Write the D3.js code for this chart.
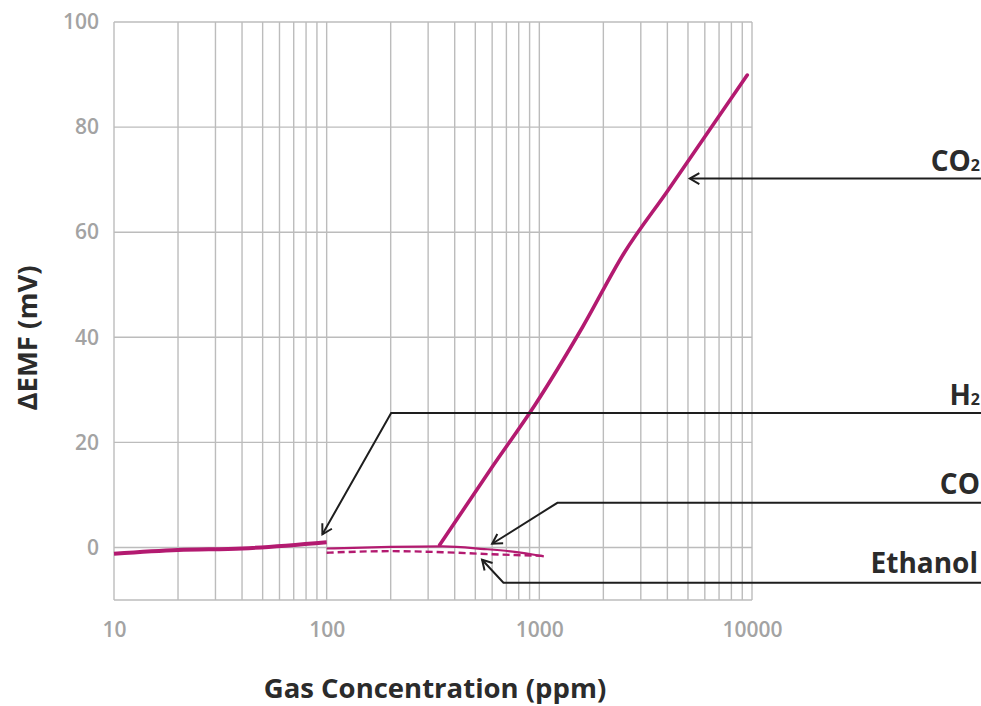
<!DOCTYPE html>
<html>
<head>
<meta charset="utf-8">
<script src="https://cdn.jsdelivr.net/npm/d3@7"></script>
<style>
  html, body { margin: 0; padding: 0; background: #ffffff; }
  svg { display: block; font-family: "Open Sans", "DejaVu Sans", sans-serif; }
</style>
</head>
<body>
<svg id="chart" width="981" height="706"></svg>
<script>
// ---- data ----
const xTickValues = [10, 100, 1000, 10000];
const xTickLabels = ["10", "100", "1000", "10000"];
const yTickValues = [0, 20, 40, 60, 80, 100];
const yTickLabels = ["0", "20", "40", "60", "80", "100"];

const h2Conc = [10, 20, 40, 100];
const h2Emf = [-1.2, -0.5, -0.2, 1.0];

const coConc = [100, 200, 350, 550, 750, 1050];
const coEmf = [-0.2, 0.1, 0.2, -0.3, -0.8, -1.7];

const ethanolConc = [100, 200, 350, 600, 1050];
const ethanolEmf = [-1.0, -0.7, -0.9, -1.3, -1.6];

const co2Conc = [340, 600, 950, 1600, 2500, 4000, 9500];
const co2Emf = [0.5, 15.3, 27, 42, 56, 67.8, 89.9];

// annotation anchors (data units): arrow tip and elbow
const annoNames = ["CO2", "H2", "CO", "Ethanol"];
const annoTipConc = [5100, 95.5, 600, 538];
const annoTipEmf = [70.2, 2.5, 0.7, -2.35];
const annoElbowConc = [5100, 201, 1216, 678];
const annoElbowEmf = [70.2, 25.6, 8.5, -6.7];

// ---- layout ----
const svg = d3.select("#chart");
const W = 981, H = 706;
const x = d3.scaleLog().domain([10, 10000]).range([114, 752]);
const y = d3.scaleLinear().domain([-10, 100]).range([600, 22]);

const gridColor = "#bcbcbc";
const magenta = "#b31a70";
const tickColor = "#a3a3a3";
const darkText = "#2b2b2b";

// grid
const g = svg.append("g");
const vTicks = [];
for (let d = 10; d < 10000; d *= 10) for (let k = 1; k <= 9; k++) vTicks.push(d * k);
vTicks.push(10000);
g.selectAll("line.v").data(vTicks).enter().append("line")
  .attr("x1", d => x(d)).attr("x2", d => x(d))
  .attr("y1", y(100)).attr("y2", y(-10))
  .attr("stroke", gridColor).attr("stroke-width", 1.4);
g.selectAll("line.h").data([-10].concat(yTickValues)).enter().append("line")
  .attr("x1", x(10)).attr("x2", x(10000))
  .attr("y1", d => y(d)).attr("y2", d => y(d))
  .attr("stroke", gridColor).attr("stroke-width", 1.4);

// axes (labels only)
const yAxis = d3.axisLeft(y).tickValues(yTickValues)
  .tickFormat((d, i) => yTickLabels[i]).tickSize(0).tickPadding(15);
const ya = svg.append("g").attr("transform", `translate(${x(10)},0)`).call(yAxis);
ya.select(".domain").remove();
ya.selectAll("text").attr("fill", tickColor).attr("font-size", 21)
  .attr("font-weight", 600).attr("font-family", "Open Sans");

const xAxis = d3.axisBottom(x).tickValues(xTickValues)
  .tickFormat((d, i) => xTickLabels[i]).tickSize(0).tickPadding(22);
const xa = svg.append("g").attr("transform", `translate(0,${y(-10)})`).call(xAxis);
xa.select(".domain").remove();
xa.selectAll("text").attr("fill", tickColor).attr("font-size", 21)
  .attr("font-weight", 600).attr("font-family", "Open Sans");

// axis titles
svg.append("text")
  .attr("x", 435).attr("y", 698)
  .attr("text-anchor", "middle")
  .attr("font-size", 27.5).attr("font-weight", 700).attr("fill", darkText)
  .text("Gas Concentration (ppm)");
svg.append("text")
  .attr("transform", "translate(37,338) rotate(-90)")
  .attr("text-anchor", "middle")
  .attr("font-size", 27.5).attr("font-weight", 700).attr("fill", darkText)
  .text("ΔEMF (mV)");

// series
const line = d3.line().x(d => x(d[0])).y(d => y(d[1]));
const zip = (a, b) => a.map((v, i) => [v, b[i]]);

svg.append("path").datum(zip(h2Conc, h2Emf))
  .attr("d", line.curve(d3.curveMonotoneX)).attr("fill", "none")
  .attr("stroke", magenta).attr("stroke-width", 4).attr("stroke-linecap", "butt");
svg.append("path").datum(zip(coConc, coEmf))
  .attr("d", line.curve(d3.curveMonotoneX)).attr("fill", "none")
  .attr("stroke", magenta).attr("stroke-width", 2.2);
svg.append("path").datum(zip(ethanolConc, ethanolEmf))
  .attr("d", line.curve(d3.curveMonotoneX)).attr("fill", "none")
  .attr("stroke", magenta).attr("stroke-width", 2.4).attr("stroke-dasharray", "7,4");
svg.append("path").datum(zip(co2Conc, co2Emf))
  .attr("d", line.curve(d3.curveMonotoneX)).attr("fill", "none")
  .attr("stroke", magenta).attr("stroke-width", 3.6).attr("stroke-linecap", "round");

// annotations
const labelBaselineOffset = [-8, -8, -9, -10];
const labelEndX = [980, 980, 980, 978];
annoNames.forEach((name, i) => {
  const tx = x(annoTipConc[i]), ty = y(annoTipEmf[i]);
  const ex = x(annoElbowConc[i]), ey = y(annoElbowEmf[i]);
  const a = svg.append("g");
  a.append("path")
    .attr("d", `M${W},${ey} L${ex},${ey} L${tx},${ty}`)
    .attr("fill", "none").attr("stroke", "#1e1e1e").attr("stroke-width", 2);
  // arrow head
  let dx = ex - tx, dy = ey - ty;
  if (i === 0) { dx = 1; dy = 0; }
  const len = Math.hypot(dx, dy);
  const ux = dx / len, uy = dy / len;
  const hl = 11, ang = Math.PI / 6;
  const p1 = [tx + hl * (ux * Math.cos(ang) - uy * Math.sin(ang)), ty + hl * (uy * Math.cos(ang) + ux * Math.sin(ang))];
  const p2 = [tx + hl * (ux * Math.cos(-ang) - uy * Math.sin(-ang)), ty + hl * (uy * Math.cos(-ang) + ux * Math.sin(-ang))];
  a.append("path")
    .attr("d", `M${p1[0]},${p1[1]} L${tx},${ty} L${p2[0]},${p2[1]}`)
    .attr("fill", "none").attr("stroke", "#1e1e1e").attr("stroke-width", 2)
    .attr("stroke-linejoin", "miter");
  // label
  const t = a.append("text")
    .attr("x", labelEndX[i]).attr("y", ey + labelBaselineOffset[i])
    .attr("text-anchor", "end")
    .attr("font-size", 28).attr("font-weight", 700).attr("fill", darkText);
  if (name === "CO2" || name === "H2") {
    t.append("tspan").text(name === "CO2" ? "CO" : "H");
    t.append("tspan").attr("font-size", 16).text("2");
  } else {
    t.text(name);
  }
});
</script>
</body>
</html>
